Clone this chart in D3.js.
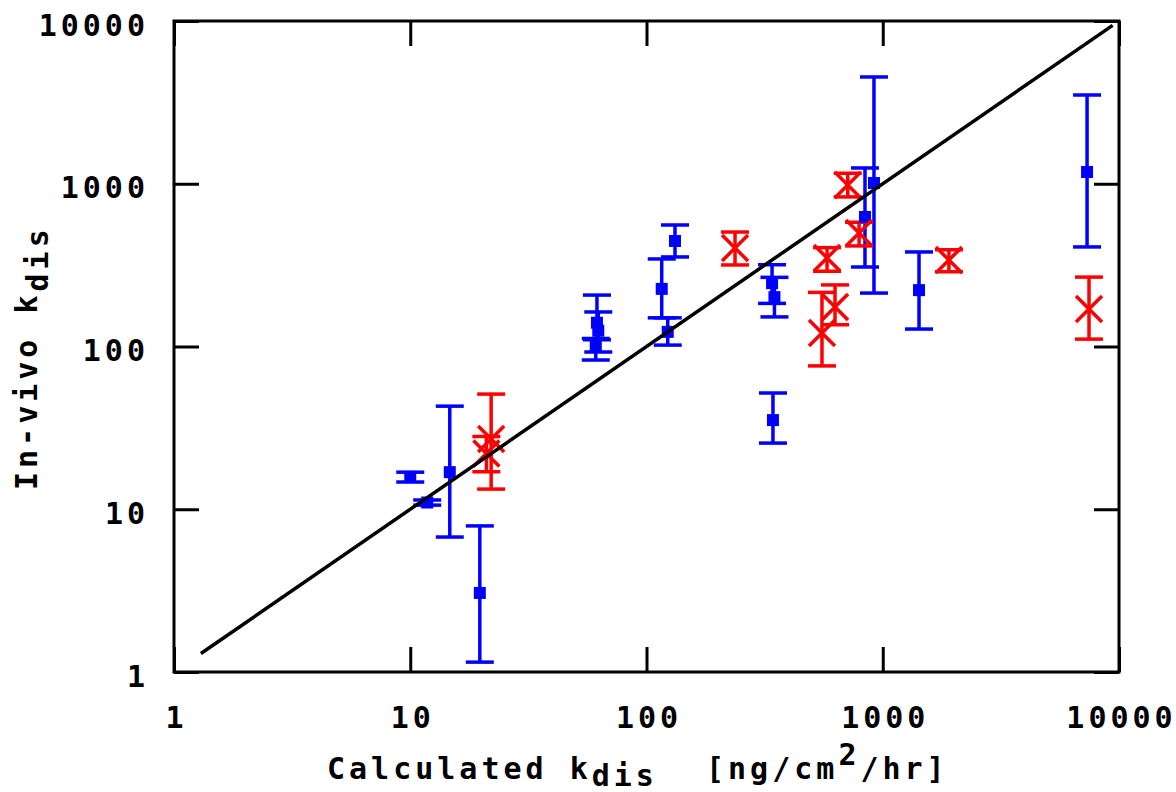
<!DOCTYPE html>
<html>
<head>
<meta charset="utf-8">
<script src="https://cdn.jsdelivr.net/npm/d3@7"></script>
<style>
  body { margin: 0; background: #fff; }
  text { font-family: "DejaVu Sans Mono", monospace; font-size: 30px; font-weight: bold; letter-spacing: 4px; fill: #000; }
</style>
</head>
<body>
<div id="visualization"></div>
<script>
// measured data, blue = squares, red = crosses
let blueX  = [10.0, 11.8, 14.7, 19.7, 61.7, 62.5, 61.0, 116, 132, 123, 340, 348, 343, 918, 841, 1424, 7325]
let blueY  = [15.8, 11.0, 16.9, 3.06, 140, 125, 100, 226, 445, 123, 245, 201, 35.3, 1011, 625, 222, 1181]
let blueLo = [14.7, 10.6, 6.75, 1.15, 110, 92.5, 82.6, 150, 355, 102, 184, 152, 25.5, 213, 308, 128, 409]
let blueHi = [16.9, 11.4, 43, 7.9, 207, 163, 112, 345, 558, 150, 318, 266, 51.8, 4530, 1250, 381, 3510]

let redX  = [22, 21, 237, 581, 553, 628, 711, 794, 1906, 7465]
let redY  = [27, 22, 403, 350, 121, 175, 983, 498, 340, 170]
let redLo = [13.3, 17, 317, 290, 76, 136, 830, 415, 288, 111]
let redHi = [51, 28, 505, 405, 215, 239, 1160, 580, 393, 267]

let lineX = [1.3, 9400]
let lineY = [1.3, 9400]

let tickValues = [1, 10, 100, 1000, 10000]

;(() => {
  let width = 1176
  let height = 792
  let left = 174, right = 1119, top = 21, bottom = 672
  let tickLen = 25
  let capHalf = 14

  let svg = d3.select('#visualization')
              .append('svg')
                .attr('width', width)
                .attr('height', height)

  let xScale = d3.scaleLog()
                .domain([1, 10000])
                .range([left, right])

  let yScale = d3.scaleLog()
                .domain([1, 10000])
                .range([bottom, top])

  // axes, ticks point inward and are mirrored
  let xAxis = svg.append('g')
                .attr('transform', `translate(0,${bottom})`)
                .call(d3.axisBottom(xScale).tickValues(tickValues).tickFormat(d3.format('d'))
                        .tickSizeInner(-tickLen).tickSizeOuter(0))
  xAxis.selectAll('text').attr('y', 56).attr('dy', 0).attr('dx', 2)

  svg.append('g')
      .attr('transform', `translate(0,${top})`)
      .call(d3.axisTop(xScale).tickValues(tickValues).tickFormat('')
              .tickSizeInner(-tickLen).tickSizeOuter(0))

  let yAxis = svg.append('g')
                .attr('transform', `translate(${left},0)`)
                .call(d3.axisLeft(yScale).tickValues(tickValues).tickFormat(d3.format('d'))
                        .tickSizeInner(-tickLen).tickSizeOuter(0))
  yAxis.selectAll('text').attr('x', -25).attr('dy', 14)

  svg.append('g')
      .attr('transform', `translate(${right},0)`)
      .call(d3.axisRight(yScale).tickValues(tickValues).tickFormat('')
              .tickSizeInner(-tickLen).tickSizeOuter(0))

  svg.selectAll('.domain').remove()
  svg.selectAll('.tick line').attr('stroke', '#000').attr('stroke-width', 3)
  svg.selectAll('.tick text')
      .style('font-family', '"DejaVu Sans Mono", monospace')
      .style('font-size', '30px')
      .style('font-weight', 'bold')

  svg.append('rect')
      .attr('x', left)
      .attr('y', top)
      .attr('width', right - left)
      .attr('height', bottom - top)
      .attr('fill', 'none')
      .attr('stroke', '#000')
      .attr('stroke-width', 3)

  let plot = svg.append('g')
  let drawBars = (xs, ys, los, his, color) => {
    xs.forEach((xv, i) => {
      let cx = xScale(xv)
      let g = plot.append('g').attr('stroke', color).attr('stroke-width', 3.5)
      g.append('line')
        .attr('x1', cx).attr('x2', cx)
        .attr('y1', yScale(los[i])).attr('y2', yScale(his[i]))
      g.append('line')
        .attr('x1', cx - capHalf).attr('x2', cx + capHalf)
        .attr('y1', yScale(los[i])).attr('y2', yScale(los[i]))
      g.append('line')
        .attr('x1', cx - capHalf).attr('x2', cx + capHalf)
        .attr('y1', yScale(his[i])).attr('y2', yScale(his[i]))
    })
  }

  drawBars(blueX, blueY, blueLo, blueHi, '#0000ff')
  drawBars(redX, redY, redLo, redHi, '#ff0000')

  plot.selectAll('rect.sq')
      .data(blueX)
      .enter()
      .append('rect')
        .attr('class', 'sq')
        .attr('x', (d) => xScale(d) - 6)
        .attr('y', (d, i) => yScale(blueY[i]) - 6)
        .attr('width', 12)
        .attr('height', 12)
        .attr('fill', '#0000ff')

  let s = 13
  plot.selectAll('path.cross')
      .data(redX)
      .enter()
      .append('path')
        .attr('class', 'cross')
        .attr('d', (d, i) => {
          let cx = xScale(d), cy = yScale(redY[i])
          return `M${cx - s},${cy - s}L${cx + s},${cy + s}M${cx - s},${cy + s}L${cx + s},${cy - s}`
        })
        .attr('stroke', '#ff0000')
        .attr('stroke-width', 3.5)
        .attr('fill', 'none')

  let line = d3.line()
              .x((d) => xScale(d[0]))
              .y((d) => yScale(d[1]))
  svg.append('path')
      .datum(lineX.map((d, i) => [d, lineY[i]]))
      .attr('d', line)
      .attr('stroke', '#000')
      .attr('stroke-width', 3.5)
      .attr('fill', 'none')

  // axis titles
  let xTitle = svg.append('text')
                .attr('x', 327)
                .attr('y', 779)
  xTitle.append('tspan').text('Calculated k')
  xTitle.append('tspan').attr('dy', 7).text('dis')
  xTitle.append('tspan').attr('dy', -7).attr('dx', 26).text('  [ng/cm')
  xTitle.append('tspan').attr('dy', -14).text('2')
  xTitle.append('tspan').attr('dy', 14).text('/hr]')

  let yTitle = svg.append('text')
                .attr('transform', 'translate(37,490) rotate(-90)')
  yTitle.append('tspan').text('In-vivo k')
  yTitle.append('tspan').attr('dy', 11).text('dis')
})()
</script>
</body>
</html>
